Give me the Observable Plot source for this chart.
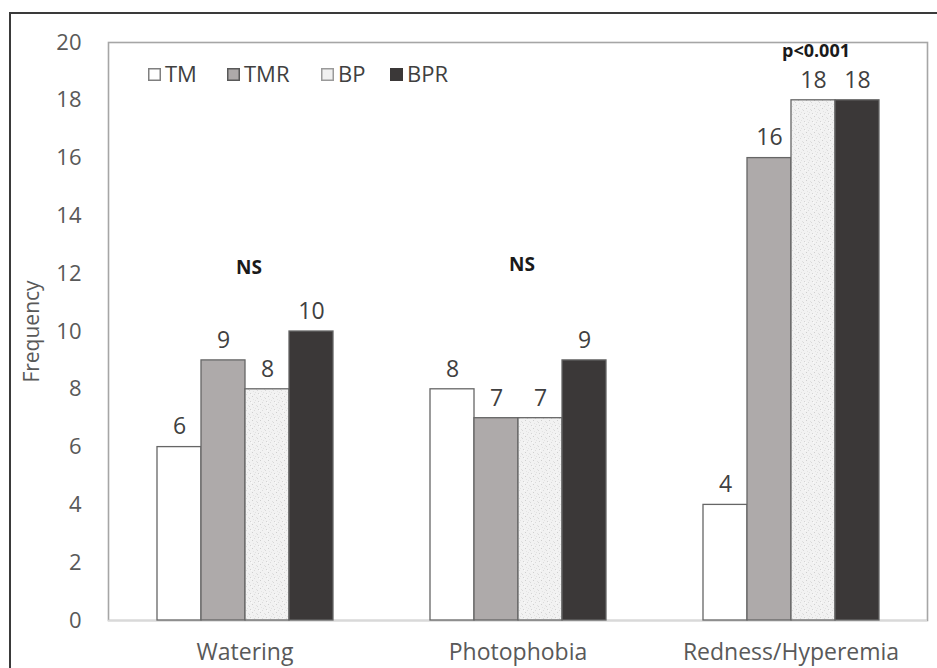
<!DOCTYPE html>
<html>
<head>
<meta charset="utf-8">
<script src="https://cdn.jsdelivr.net/npm/d3@7"></script>
<script src="https://cdn.jsdelivr.net/npm/@observablehq/plot@0.6"></script>
<style>
  html, body { margin: 0; padding: 0; background: #fff; }
  body { width: 937px; height: 668px; position: relative; overflow: hidden; font-family: "Open Sans", sans-serif; }
  #outer { position: absolute; left: 9px; top: 12px; width: 1000px; height: 800px; border-left: 2.5px solid #3a3a3a; border-top: 2.5px solid #3a3a3a; box-sizing: border-box; }
  #chart { position: absolute; left: 0; top: 0; }
  .leg { position: absolute; top: 60px; display: flex; align-items: center; font-size: 22px; color: #404040; line-height: 26px; }
  .leg svg { margin-right: 4px; margin-top: 2px; }
</style>
</head>
<body>
<div id="outer"></div>
<div id="chart"></div>
<div id="legend"></div>
<script>
// ---- data ----
const categories = ["Watering", "Photophobia", "Redness/Hyperemia"];
const series = ["TM", "TMR", "BP", "BPR"];
const TM  = [6, 8, 4];
const TMR = [9, 7, 16];
const BP  = [8, 7, 18];
const BPR = [10, 9, 18];
const yTicks = [0, 2, 4, 6, 8, 10, 12, 14, 16, 18, 20];
const annotationText = ["NS", "NS", "p<0.001"];
const annotationY = [12.2, 12.3, 19.7];

// ---- build table ----
const valuesBySeries = {TM, TMR, BP, BPR};
const data = [];
categories.forEach((c, i) => series.forEach(s => data.push({cat: c, series: s, value: valuesBySeries[s][i]})));
const annotations = categories.map((c, i) => ({cat: c, label: annotationText[i], y: annotationY[i]}));

const fills = ["#ffffff", "#aeaaaa", "url(#bpPattern)", "#3b3838"];

const chart = Plot.plot({
  width: 937,
  height: 668,
  marginLeft: 107,
  marginRight: 10,
  marginTop: 42,
  marginBottom: 48,
  style: {fontFamily: "Open Sans, sans-serif", background: "transparent", overflow: "visible"},
  fx: {domain: categories, padding: 0},
  x: {domain: series, axis: null, paddingInner: 0, paddingOuter: 1.1},
  y: {domain: [0, 20]},
  color: {domain: series, range: fills},
  marks: [
    Plot.frame({facet: "super", stroke: "#a6a6a6", strokeWidth: 1.6}),
    Plot.ruleY([0], {stroke: "#d9d9d9", strokeWidth: 1.6}),
    Plot.barY(data, {fx: "cat", x: "series", y: "value", fill: "series", stroke: "#666666", strokeWidth: 1.3}),
    Plot.text(data, {fx: "cat", x: "series", y: "value", text: d => String(d.value), dy: -20, fontSize: 23, fill: "#404040"}),
    Plot.text(annotations.filter(d => d.label === "NS"), {fx: "cat", y: "y", text: "label", dx: 4, fontSize: 19, fontWeight: "bold", fill: "#1a1a1a"}),
    Plot.text(annotations.filter(d => d.label !== "NS"), {fx: "cat", y: "y", text: "label", dx: 25, fontSize: 18, fontWeight: "bold", fill: "#1a1a1a"}),
    Plot.axisY({ticks: yTicks, tickSize: 0, tickPadding: 27, fontSize: 22, fill: "#595959", label: null}),
    Plot.axisY({ticks: [], tickSize: 0, fontSize: 21, fill: "#595959", label: "Frequency", labelAnchor: "center", labelArrow: "none", labelOffset: 84}),
    Plot.axisFx({anchor: "bottom", tickSize: 0, tickPadding: 23, fontSize: 23, fill: "#595959", label: null})
  ]
});

// pattern for BP (light speckled fill)
const ns = "http://www.w3.org/2000/svg";
function addPattern(svg) {
  const defs = document.createElementNS(ns, "defs");
  const pat = document.createElementNS(ns, "pattern");
  pat.setAttribute("id", "bpPattern");
  pat.setAttribute("patternUnits", "userSpaceOnUse");
  pat.setAttribute("width", "8");
  pat.setAttribute("height", "8");
  const bg = document.createElementNS(ns, "rect");
  bg.setAttribute("width", "8"); bg.setAttribute("height", "8"); bg.setAttribute("fill", "#f2f2f2");
  pat.appendChild(bg);
  const dots = [[1,1,"#d4d4d4"],[5,2,"#dcdcdc"],[3,4,"#cfcfcf"],[7,5,"#e0e0e0"],[0,6,"#d8d8d8"],[4,7,"#e4e4e4"],[6,0,"#e2e2e2"],[2,2,"#fafafa"]];
  dots.forEach(([x, y, c]) => {
    const r = document.createElementNS(ns, "rect");
    r.setAttribute("x", x); r.setAttribute("y", y); r.setAttribute("width", "1"); r.setAttribute("height", "1"); r.setAttribute("fill", c);
    pat.appendChild(r);
  });
  defs.appendChild(pat);
  svg.insertBefore(defs, svg.firstChild);
}
const svgEl = chart.tagName.toLowerCase() === "svg" ? chart : chart.querySelector("svg");
addPattern(svgEl);
document.getElementById("chart").appendChild(chart);

// legend (HTML, inside plot area)
const legendX = [148, 227, 321, 390];
const legendStroke = ["#7f7f7f", "#595959", "#9a9a9a", "#3b3838"];
const legend = document.getElementById("legend");
series.forEach((s, i) => {
  const item = document.createElement("div");
  item.className = "leg";
  item.style.left = legendX[i] + "px";
  item.innerHTML = `<svg width="13" height="13"><rect x="0.75" y="0.75" width="11.5" height="11.5" fill="${fills[i] === "url(#bpPattern)" ? "#f0f0f0" : fills[i]}" stroke="${legendStroke[i]}" stroke-width="1.5"/></svg><span>${s}</span>`;
  legend.appendChild(item);
});
</script>
</body>
</html>
